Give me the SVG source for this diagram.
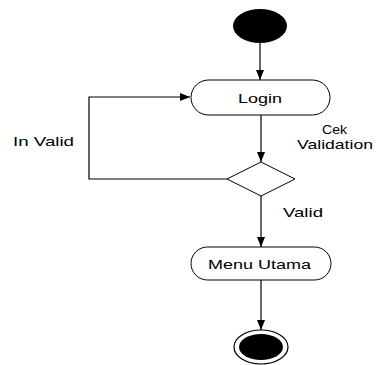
<svg xmlns="http://www.w3.org/2000/svg" width="376" height="365" viewBox="0 0 376 365">
<defs>
<marker id="ah" markerWidth="10" markerHeight="8" refX="10" refY="4" orient="auto" markerUnits="userSpaceOnUse">
<path d="M0,0 L10,4 L0,8 Z" fill="#000"/>
</marker>
<style>
.t{font-family:"Liberation Sans",Arial,sans-serif;font-size:13px;fill:#000}
.n{fill:#fff;stroke:#000;stroke-width:1}
.c{fill:none;stroke:#000;stroke-width:1.2}
</style>
</defs>
<rect width="376" height="365" fill="#fff"/>
<g id="connectors">
<line class="c" x1="260" y1="43" x2="260" y2="80" marker-end="url(#ah)"/>
<line class="c" x1="261" y1="115" x2="261" y2="162" marker-end="url(#ah)"/>
<polyline class="c" points="227,179 89,179 89,97 190,97" marker-end="url(#ah)"/>
<line class="c" x1="261" y1="196" x2="261" y2="247" marker-end="url(#ah)"/>
<line class="c" x1="261" y1="280" x2="261" y2="330" marker-end="url(#ah)"/>
<text class="t" x="13" y="146" textLength="61" lengthAdjust="spacingAndGlyphs">In Valid</text>
<text class="t" x="322" y="134" textLength="25" lengthAdjust="spacingAndGlyphs">Cek</text>
<text class="t" x="297" y="149" textLength="76" lengthAdjust="spacingAndGlyphs">Validation</text>
<text class="t" x="283" y="217" textLength="40" lengthAdjust="spacingAndGlyphs">Valid</text>
</g>
<g id="start">
<ellipse cx="260" cy="26" rx="27" ry="17" fill="#000"/>
</g>
<g id="login">
<rect class="n" x="191" y="80" width="139" height="35" rx="17.5" ry="17.5"/>
<text class="t" x="238" y="103" textLength="44" lengthAdjust="spacingAndGlyphs">Login</text>
</g>
<g id="decision">
<polygon class="n" points="261,162 295,179 261,196 227,179"/>
</g>
<g id="menu">
<rect class="n" x="191" y="247" width="140" height="33" rx="16.5" ry="16.5"/>
<text class="t" x="208" y="269" textLength="103" lengthAdjust="spacingAndGlyphs">Menu Utama</text>
</g>
<g id="end">
<ellipse cx="261" cy="347" rx="27" ry="17" fill="#fff" stroke="#000" stroke-width="1.2"/>
<ellipse cx="261" cy="347" rx="22" ry="13" fill="#000"/>
</g>
</svg>
